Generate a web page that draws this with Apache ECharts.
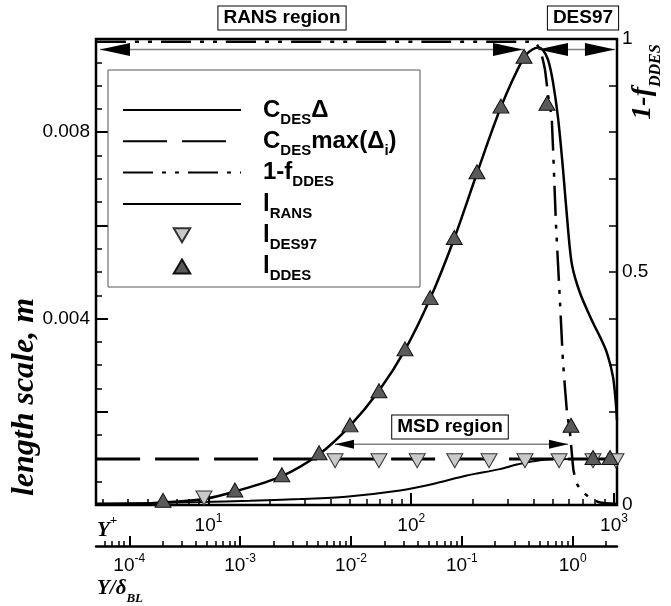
<!DOCTYPE html>
<html>
<head>
<meta charset="utf-8">
<script src="https://cdn.jsdelivr.net/npm/echarts@6/dist/echarts.min.js"></script>
<style>
html, body { margin: 0; padding: 0; background: #fff; }
#main { width: 671px; height: 606px; }
</style>
</head>
<body>
<div id="main"></div>
<script>
// values, x is Y+ (log axis), y is length scale in m
var cdesDeltaYp = [2.79, 5.15, 9.08, 16.0, 28.3, 47.7, 88.0, 128, 188, 274, 332, 408, 484, 1035];
var cdesDeltaVal = [0.000032, 0.000043, 0.000064, 0.000092, 0.000129, 0.000178, 0.000311, 0.000451, 0.000633, 0.00077, 0.000869, 0.000944, 0.000981, 0.000987];

var cdesMaxYp = [2.79, 1035];
var cdesMaxVal = [0.000987, 0.000987];

// 1-fDDES, read on the right axis
var fddesYp = [2.79, 376, 412, 436, 457, 473, 493, 517, 542, 560, 585, 607, 631, 657, 695, 762, 853, 1035];
var fddesVal = [0.9942, 0.9942, 0.9914, 0.9721, 0.9335, 0.8798, 0.8305, 0.6073, 0.4335, 0.3112, 0.2039, 0.1545, 0.0751, 0.0451, 0.0300, 0.0150, 0.0054, 0.0021];

var lransYp = [2.79, 4.10, 5.97, 9.50, 13.5, 23.0, 35.1, 49.9, 69.3, 93.2, 124, 163, 211, 277, 360, 394, 422, 447, 473, 500, 530, 561, 593, 621, 680, 788, 853, 924, 989, 1023, 1035];
var lransVal = [0.00001, 0.00002, 0.000054, 0.000129, 0.00029, 0.00062, 0.00109, 0.0017, 0.00245, 0.00333, 0.00443, 0.00572, 0.00712, 0.00854, 0.00961, 0.00977, 0.00982, 0.00976, 0.00955, 0.00908, 0.0083, 0.00719, 0.00594, 0.00515, 0.00455, 0.00391, 0.00361, 0.00326, 0.00275, 0.00215, 0.00182];

var des97Yp = [9.50, 42.1, 69.3, 107, 164, 242, 364, 536, 788, 1023];
var des97Val = [0.00015, 0.00095, 0.00095, 0.00095, 0.00095, 0.00095, 0.00095, 0.00095, 0.00095, 0.00095];

var ddesYp = [5.97, 13.5, 23.0, 35.1, 49.9, 69.3, 93.2, 124, 163, 211, 277, 360, 467, 614, 788, 956];
var ddesVal = [0.0001, 0.000322, 0.00065, 0.00112, 0.00172, 0.00245, 0.00335, 0.00445, 0.00574, 0.00715, 0.00856, 0.00963, 0.00862, 0.00171, 0.00102, 0.00102];

// axis ranges and ticks
var yPlusRange = [2.787, 1035];
var yPlusMajor = [10, 100, 1000];
var ydRange = [5.01e-5, 2.51];
var ydMajor = [1e-4, 1e-3, 1e-2, 1e-1, 1];
var lenMajor = [0.002, 0.004, 0.006, 0.008];
var lenLabels = [0.004, 0.008];
var rightTicks = [0.1, 0.2, 0.3, 0.4, 0.5, 0.6, 0.7, 0.8, 0.9];
var rightLabels = [0, 0.5, 1];

var SANS = '"Liberation Sans", Arial, Helvetica, sans-serif';
var SERIF = '"Liberation Serif", "Times New Roman", serif';

function lg(v) { return Math.log(v) / Math.LN10; }
function pairs(xs, ys) { return xs.map(function (x, i) { return [lg(x), ys[i]]; }); }

function minorLog(range) {
    var out = [];
    for (var n = -6; n <= 4; n++) {
        for (var k = 2; k <= 9; k++) {
            var v = k * Math.pow(10, n);
            if (v > range[0] && v < range[1]) out.push(lg(v));
        }
    }
    return out;
}

var lenMinor = [];
for (var k = 1; k < 20; k++) {
    if (k % 4 != 0) lenMinor.push(k * 0.0005);
}

var powRich = {
    n: { fontFamily: SANS, fontSize: 19, color: '#000', verticalAlign: 'bottom' },
    p: { fontFamily: SANS, fontSize: 12, color: '#000', verticalAlign: 'bottom', padding: [0, 0, 10, 0] }
};
function powLabel(v) { return '{n|10}{p|' + Math.round(v) + '}'; }

var legendText = {
    cdelta: '{g|}{b|C}{s|DES}{b|\u0394}',
    cmax: '{g|}{b|C}{s|DES}{b|max(\u0394}{s|i}{b|)}',
    fddes: '{g|}{b|1-f}{s|DDES}',
    lrans: '{g|}{b|l}{s|RANS}',
    ldes97: '{g|}{b|l}{s|DES97}',
    lddes: '{g|}{b|l}{s|DDES}'
};

// line series draw no symbol; the transparent item style keeps the legend dot away
var noDot = { color: '#000', opacity: 0 };

var chart = echarts.init(document.getElementById('main'));

var option = {
    animation: false,
    backgroundColor: '#fff',
    grid: {
        left: 96, right: 54, top: 39, bottom: 101,
        show: true, borderColor: '#000', borderWidth: 2.5,
        outerBoundsMode: 'none'
    },
    legend: {
        orient: 'vertical',
        left: 108, top: 70,
        padding: [28, 0, 0, 14],
        itemWidth: 118, itemHeight: 14, itemGap: 2.3,
        selectedMode: false,
        data: ['cdelta', 'cmax', 'fddes', 'lrans', 'ldes97', 'lddes'],
        formatter: function (name) { return legendText[name]; },
        textStyle: {
            color: '#000',
            rich: {
                g: { width: 17 },
                b: { fontFamily: SANS, fontWeight: 'bold', fontSize: 24, color: '#000', verticalAlign: 'bottom', padding: [5, 0, 5, 0] },
                s: { fontFamily: SANS, fontWeight: 'bold', fontSize: 15, color: '#000', verticalAlign: 'bottom' }
            }
        }
    },
    xAxis: [
        {
            type: 'value', min: lg(yPlusRange[0]), max: lg(yPlusRange[1]), position: 'bottom',
            axisLine: { show: false, onZero: false }, splitLine: { show: false },
            axisTick: { show: true, inside: true, length: 12, customValues: yPlusMajor.map(lg), lineStyle: { color: '#000', width: 2 } },
            axisLabel: { customValues: yPlusMajor.map(lg), margin: 8, formatter: powLabel, rich: powRich }
        },
        {
            type: 'value', min: lg(yPlusRange[0]), max: lg(yPlusRange[1]), position: 'bottom',
            axisLine: { show: false, onZero: false }, splitLine: { show: false }, axisLabel: { show: false },
            axisTick: { show: true, inside: true, length: 6, customValues: minorLog(yPlusRange), lineStyle: { color: '#000', width: 1.5 } }
        },
        {
            type: 'value', min: lg(ydRange[0]), max: lg(ydRange[1]), position: 'bottom', offset: 41,
            axisLine: { show: true, onZero: false, lineStyle: { color: '#000', width: 2.5 } }, splitLine: { show: false },
            axisTick: { show: true, inside: true, length: 10, customValues: ydMajor.map(lg), lineStyle: { color: '#000', width: 2 } },
            axisLabel: { customValues: ydMajor.map(lg), margin: 7, formatter: powLabel, rich: powRich }
        },
        {
            type: 'value', min: lg(ydRange[0]), max: lg(ydRange[1]), position: 'bottom', offset: 41,
            axisLine: { show: false, onZero: false }, splitLine: { show: false }, axisLabel: { show: false },
            axisTick: { show: true, inside: true, length: 5, customValues: minorLog(ydRange), lineStyle: { color: '#000', width: 1.5 } }
        }
    ],
    yAxis: [
        {
            type: 'value', min: 0, max: 0.01, position: 'left',
            axisLine: { show: false, onZero: false }, splitLine: { show: false },
            axisTick: { show: true, inside: true, length: 12, customValues: lenMajor, lineStyle: { color: '#000', width: 2 } },
            axisLabel: {
                customValues: lenLabels, margin: 6, color: '#000', fontFamily: SANS, fontSize: 19,
                formatter: function (v) { return v.toFixed(3); }
            }
        },
        {
            type: 'value', min: 0, max: 0.01, position: 'left',
            axisLine: { show: false, onZero: false }, splitLine: { show: false }, axisLabel: { show: false },
            axisTick: { show: true, inside: true, length: 6, customValues: lenMinor, lineStyle: { color: '#000', width: 1.5 } }
        },
        {
            type: 'value', min: 0, max: 1, position: 'right',
            axisLine: { show: false, onZero: false }, splitLine: { show: false },
            axisTick: { show: true, inside: true, length: 8, customValues: rightTicks, lineStyle: { color: '#000', width: 1.5 } },
            axisLabel: {
                customValues: rightLabels, margin: 5, color: '#000', fontFamily: SANS, fontSize: 19,
                formatter: function (v) { return String(v); }
            }
        }
    ],
    series: [
        {
            name: 'cdelta', type: 'line', data: pairs(cdesDeltaYp, cdesDeltaVal),
            symbol: 'none', smooth: 0.3, z: 3,
            lineStyle: { color: '#000', width: 2 }, itemStyle: noDot
        },
        {
            name: 'cmax', type: 'line', data: pairs(cdesMaxYp, cdesMaxVal),
            symbol: 'none', z: 3,
            lineStyle: { color: '#000', width: 3, type: [44, 15] }, itemStyle: noDot
        },
        {
            name: 'fddes', type: 'line', yAxisIndex: 2, data: pairs(fddesYp, fddesVal),
            symbol: 'none', smooth: 0.15, z: 3,
            lineStyle: { color: '#000', width: 2.5, type: [30, 9, 4, 9, 4, 9] }, itemStyle: noDot
        },
        {
            name: 'lrans', type: 'line', data: pairs(lransYp, lransVal),
            symbol: 'none', smooth: 0.3, z: 3,
            lineStyle: { color: '#000', width: 2.5 }, itemStyle: noDot
        },
        {
            name: 'ldes97', type: 'scatter', data: pairs(des97Yp, des97Val),
            symbol: 'path://M0,0L20,0L10,17Z', symbolSize: [16, 14], z: 5,
            itemStyle: { color: '#c9c9c9', borderColor: '#333', borderWidth: 1, opacity: 1 }
        },
        {
            name: 'lddes', type: 'scatter', data: pairs(ddesYp, ddesVal),
            symbol: 'path://M10,0L20,17L0,17Z', symbolSize: [16, 14], z: 6,
            itemStyle: { color: '#5a5a5a', borderColor: '#111', borderWidth: 1, opacity: 1 }
        }
    ]
};

chart.setOption(option);

// region arrows, in axis values (x is log10 Y+)
var arrows = [
    { from: 0.4649, to: 2.5512, y: 0.009775, head: 30, half: 6.5 },
    { from: 2.6252, to: 3.0049, y: 0.009775, head: 30, half: 6.5 },
    { from: 1.6239, to: 2.7732, y: 0.001303, head: 19, half: 4.5 }
];

function arrowParts(a) {
    var p0 = chart.convertToPixel({ seriesIndex: 3 }, [a.from, a.y]);
    var p1 = chart.convertToPixel({ seriesIndex: 3 }, [a.to, a.y]);
    return [
        { type: 'line', z: 8, shape: { x1: p0[0], y1: p0[1], x2: p1[0], y2: p1[1] }, style: { stroke: '#808080', lineWidth: 1.5 } },
        { type: 'polygon', z: 9, shape: { points: [[p0[0], p0[1]], [p0[0] + a.head, p0[1] - a.half], [p0[0] + a.head, p0[1] + a.half]] }, style: { fill: '#000' } },
        { type: 'polygon', z: 9, shape: { points: [[p1[0], p1[1]], [p1[0] - a.head, p1[1] - a.half], [p1[0] - a.head, p1[1] + a.half]] }, style: { fill: '#000' } }
    ];
}

function boxLabel(text, x, y) {
    return {
        type: 'text', x: x, y: y, z: 10,
        style: {
            text: text, fill: '#000', font: 'bold 19px ' + SANS,
            align: 'center', verticalAlign: 'middle',
            backgroundColor: '#fff', borderColor: '#000', borderWidth: 1, padding: [3, 5, 1, 5]
        }
    };
}

var graphics = [
    { type: 'rect', z: 1, shape: { x: 108, y: 70, width: 312, height: 217 }, style: { fill: '#fff', stroke: '#555', lineWidth: 1 } },
    boxLabel('RANS region', 282, 18),
    boxLabel('DES97', 583, 18),
    boxLabel('MSD region', 450, 427),
    {
        type: 'text', x: 25, y: 397, rotation: Math.PI / 2,
        style: { text: 'length scale, m', fill: '#000', font: 'italic bold 32px ' + SERIF, align: 'center', verticalAlign: 'middle' }
    },
    {
        type: 'text', x: 646, y: 82, rotation: Math.PI / 2,
        style: {
            text: '{m|1-f}{s|DDES}', align: 'center', verticalAlign: 'middle',
            rich: {
                m: { fontFamily: SERIF, fontStyle: 'italic', fontWeight: 'bold', fontSize: 28, fill: '#000', verticalAlign: 'bottom', padding: [0, 0, 7, 0] },
                s: { fontFamily: SERIF, fontStyle: 'italic', fontWeight: 'bold', fontSize: 16, fill: '#000', verticalAlign: 'bottom' }
            }
        }
    },
    {
        type: 'text', x: 97, y: 528,
        style: {
            text: '{m|Y}{p|+}', align: 'left', verticalAlign: 'middle',
            rich: {
                m: { fontFamily: SERIF, fontStyle: 'italic', fontWeight: 'bold', fontSize: 21, fill: '#000', verticalAlign: 'top', padding: [6, 0, 0, 0] },
                p: { fontFamily: SERIF, fontStyle: 'italic', fontWeight: 'bold', fontSize: 13, fill: '#000', verticalAlign: 'top' }
            }
        }
    },
    {
        type: 'text', x: 97, y: 592,
        style: {
            text: '{m|Y/\u03b4}{s|BL}', align: 'left', verticalAlign: 'middle',
            rich: {
                m: { fontFamily: SERIF, fontStyle: 'italic', fontWeight: 'bold', fontSize: 21, fill: '#000', verticalAlign: 'bottom', padding: [0, 0, 6, 0] },
                s: { fontFamily: SERIF, fontStyle: 'italic', fontWeight: 'bold', fontSize: 13, fill: '#000', verticalAlign: 'bottom' }
            }
        }
    }
];
arrows.forEach(function (a) { graphics = graphics.concat(arrowParts(a)); });

chart.setOption({ graphic: graphics });
</script>
</body>
</html>
